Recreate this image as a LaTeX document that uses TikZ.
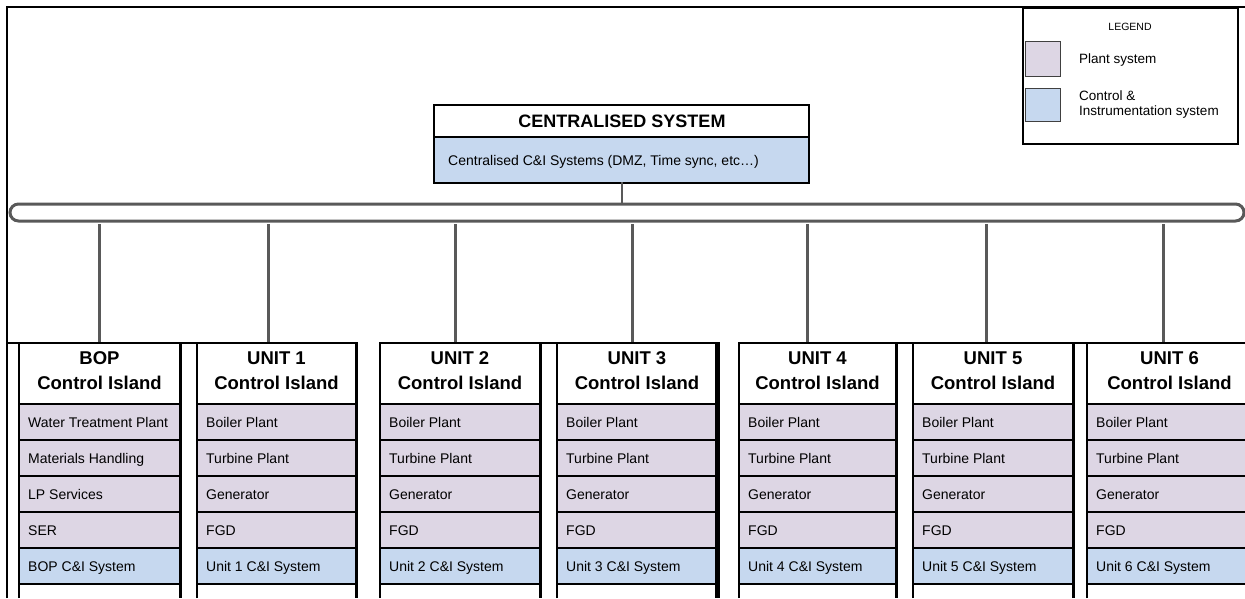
\documentclass[tikz,border=0pt]{standalone}
\usepackage{fontspec}
\setmainfont{Liberation Sans}
\definecolor{plantc}{HTML}{DDD6E4}
\definecolor{cic}{HTML}{C6D8EF}
\definecolor{busc}{HTML}{595959}
\tikzset{
  frameline/.style={line width=2pt, black},
  boxline/.style={line width=2pt, black},
  rboxline/.style={line width=3pt, black},
  divline/.style={line width=2.5pt, black},
  busline/.style={line width=3pt, busc},
  dropline/.style={line width=3pt, busc},
  headtxt/.style={font=\fontsize{18.5}{25}\selectfont\bfseries, align=center, inner sep=0pt},
  rowtxt/.style={font=\fontsize{14}{16}\selectfont, anchor=west, inner sep=0pt, text height=10pt, text depth=3pt, yshift=-2pt},
  legtxt/.style={font=\fontsize{13.5}{15.5}\selectfont, anchor=west, align=left, inner sep=0pt},
  swatch/.style={draw=black!75, line width=0.8pt, anchor=north west, minimum width=35pt, inner sep=0pt},
}
\newcommand{\myisland}[9]{%
  \fill[plantc] (#2,404) rectangle (#3,548);
  \fill[cic] (#2,548) rectangle (#3,584);
  \foreach \yy in {404,440,476,512,548,584} \draw[divline] (#2,\yy) -- (#3,\yy);
  \draw[boxline] (#2,598) -- (#2,343) -- (#3,343);
  \draw[rboxline] (#3,342) -- (#3,598);
  \node[headtxt] (#1) at ({(#2+#3)/2},370.5) {#4\\Control Island};
  \node[rowtxt] (#1a) at ({#2+9},422) {#5};
  \node[rowtxt] (#1b) at ({#2+9},458) {#6};
  \node[rowtxt] (#1c) at ({#2+9},494) {#7};
  \node[rowtxt] (#1d) at ({#2+9},530) {#8};
  \node[rowtxt] (#1e) at ({#2+9},566) {#9};
}
\begin{document}
\begin{tikzpicture}[x=1pt,y=-1pt]
\useasboundingbox (0,0) rectangle (1245,598);
% outer frame
\draw[frameline] (7,598) -- (7,7) -- (1245,7);
% legend
\node[draw, line width=2pt, minimum width=215pt, minimum height=136pt, anchor=north west, inner sep=0pt] (legend) at (1022,7) {};
\node[font=\fontsize{10.5}{12}\selectfont, inner sep=0pt] (legtitle) at (1130,27) {LEGEND};
\node[swatch, fill=plantc, minimum height=35pt] (swp) at (1025,41) {};
\node[swatch, fill=cic, minimum height=33pt] (swc) at (1025,88) {};
\node[legtxt] (legp) at (1079,60) {Plant system};
\node[legtxt] (legc) at (1079,104.5) {Control \&\\Instrumentation system};
% centralised system
\fill[cic] (433,137) rectangle (808,182);
\node[draw, line width=2pt, minimum width=375pt, minimum height=78pt, anchor=north west, inner sep=0pt] (cent) at (433,104) {};
\draw[line width=1.5pt] (433,137) -- (808,137);
\node[font=\fontsize{18}{20}\selectfont\bfseries, inner sep=0pt] (centtitle) at (622,121) {CENTRALISED SYSTEM};
\node[rowtxt] (centsub) at (448,160) {Centralised C\&I Systems (DMZ, Time sync, etc…)};
% bus
\draw[busline, rounded corners=8.5pt] (10,204) rectangle (1244,221);
\coordinate (bustop) at (622,204);
\draw[line width=2pt, busc] (622,182) -- (bustop);
% islands
\myisland{bop}{19}{180}{BOP}{Water Treatment Plant}{Materials Handling}{LP Services}{SER}{BOP C\&I System}
\myisland{u1}{197}{356}{UNIT 1}{Boiler Plant}{Turbine Plant}{Generator}{FGD}{Unit 1 C\&I System}
\myisland{u2}{380}{540}{UNIT 2}{Boiler Plant}{Turbine Plant}{Generator}{FGD}{Unit 2 C\&I System}
\myisland{u3}{557}{717}{UNIT 3}{Boiler Plant}{Turbine Plant}{Generator}{FGD}{Unit 3 C\&I System}
\myisland{u4}{739}{896}{UNIT 4}{Boiler Plant}{Turbine Plant}{Generator}{FGD}{Unit 4 C\&I System}
\myisland{u5}{913}{1073}{UNIT 5}{Boiler Plant}{Turbine Plant}{Generator}{FGD}{Unit 5 C\&I System}
\myisland{u6}{1087}{1252}{UNIT 6}{Boiler Plant}{Turbine Plant}{Generator}{FGD}{Unit 6 C\&I System}
\draw[line width=5.5pt] (717.5,342) -- (717.5,598);
% joining top lines
\draw[boxline] (7,343) -- (19,343);
\draw[boxline] (180,343) -- (197,343);
\draw[boxline] (540,343) -- (557,343);
\draw[boxline] (896,343) -- (913,343);
\draw[boxline] (1073,343) -- (1087,343);
% drops
\foreach \nm/\xx in {bop/99,u1/268,u2/455,u3/632,u4/807,u5/986,u6/1163}{
  \coordinate (\nm bus) at (\xx,224);
  \coordinate (\nm top) at (\xx,342);
  \draw[dropline] (\nm bus) -- (\nm top);
}
\end{tikzpicture}
\end{document}
